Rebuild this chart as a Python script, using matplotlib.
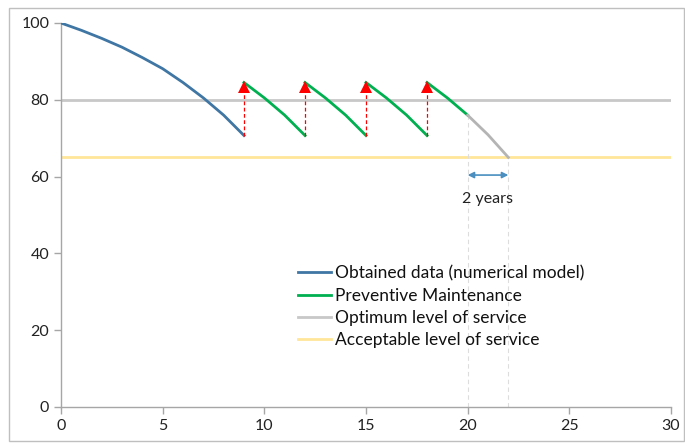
import matplotlib
matplotlib.use("Agg")
import matplotlib.pyplot as plt
from matplotlib.patches import Rectangle

plt.rcParams['font.family'] = ['Lato', 'DejaVu Sans']

# Data
years_obtained = [0, 1, 2, 3, 4, 5, 6, 7, 8, 9]
level_obtained = [100, 98.1, 96.0, 93.7, 91.0, 88.1, 84.5, 80.5, 76.0, 70.7]

pm_segments_x = [[9, 10, 11, 12], [12, 13, 14, 15], [15, 16, 17, 18], [18, 19, 20]]
pm_segments_y = [[84.5, 80.5, 76.0, 70.7], [84.5, 80.5, 76.0, 70.7],
                 [84.5, 80.5, 76.0, 70.7], [84.5, 80.5, 76.0]]

decay_x = [20, 21, 22]
decay_y = [76.0, 70.9, 65.0]

maint_years = [9, 12, 15, 18]
maint_low = [70.7, 70.7, 70.7, 70.7]
maint_high = [83.3, 83.3, 83.3, 83.3]

optimum_level = 80
acceptable_level = 65
gap_start, gap_end = 20, 22
gap_arrow_y = 60.4
gap_label = "2 years"

xticks = [0, 5, 10, 15, 20, 25, 30]
yticks = [0, 20, 40, 60, 80, 100]

blue = '#3f76a3'
green = '#00b050'
gray = '#c8c8c8'
yellow = '#ffe699'
red = '#ff0000'

fig = plt.figure(figsize=(6.85, 4.43), dpi=100)
ax = fig.add_axes([61/685, 1-407/443, 610/685, 384/443])

ax.axhline(optimum_level, color=gray, lw=2, zorder=1)
ax.axhline(acceptable_level, color=yellow, lw=2, zorder=1)

# dashed guide lines
ax.plot([gap_start, gap_start], [0, decay_y[0]], color='#dddddd', lw=0.8, ls=(0, (4, 3)), zorder=1)
ax.plot([gap_end, gap_end], [0, decay_y[-1]], color='#dddddd', lw=0.8, ls=(0, (4, 3)), zorder=1)

ax.plot(years_obtained, level_obtained, color=blue, lw=2, zorder=3)
for sx, sy in zip(pm_segments_x, pm_segments_y):
    ax.plot(sx, sy, color=green, lw=2, zorder=3)
ax.plot(decay_x, decay_y, color='#b4b4b4', lw=2, zorder=3)

for x, lo, hi in zip(maint_years, maint_low, maint_high):
    ax.plot([x, x], [lo, hi], color=red, lw=0.9, ls=(0, (3, 2)), zorder=4)
    ax.plot([x], [hi], marker='^', color=red, ms=9, zorder=5, markeredgewidth=0)

ax.annotate('', xy=(gap_start, gap_arrow_y), xytext=(gap_end, gap_arrow_y),
            arrowprops=dict(arrowstyle='<|-|>', color='#4a8fc0', lw=1.2,
                            mutation_scale=9, shrinkA=0, shrinkB=0))
ax.text((gap_start + gap_end) / 2, gap_arrow_y - 6.2, gap_label, ha='center', va='center',
        fontsize=11.5, color='#222222')

# legend handles
ax.plot([], [], color=blue, lw=2, label='Obtained data (numerical model)')
ax.plot([], [], color=green, lw=2, label='Preventive Maintenance')
ax.plot([], [], color=gray, lw=2, label='Optimum level of service')
ax.plot([], [], color=yellow, lw=2, label='Acceptable level of service')
handles, labels = ax.get_legend_handles_labels()
ax.legend(handles[-4:], labels[-4:], loc='upper left', bbox_to_anchor=(0.389, 0.369),
          frameon=False, fontsize=12.5, handlelength=1.9, handletextpad=0.2,
          labelspacing=0.36, borderpad=0, borderaxespad=0, labelcolor='#111111')

ax.set_xlim(0, 30)
ax.set_ylim(0, 100)
ax.set_xticks(xticks)
ax.set_yticks(yticks)
for s in ['top', 'right']:
    ax.spines[s].set_visible(False)
for s in ['left', 'bottom']:
    ax.spines[s].set_color('#a6a6a6')
    ax.spines[s].set_linewidth(1)
ax.tick_params(axis='both', colors='#a6a6a6', labelcolor='#222222', labelsize=11.5,
               length=5, width=1, direction='out')

fig.patches.append(Rectangle((9/685, 2/443), 675/685, 433/443, transform=fig.transFigure,
                             fill=False, edgecolor='#bfbfbf', lw=1))

fig.savefig('out.png', dpi=100)
